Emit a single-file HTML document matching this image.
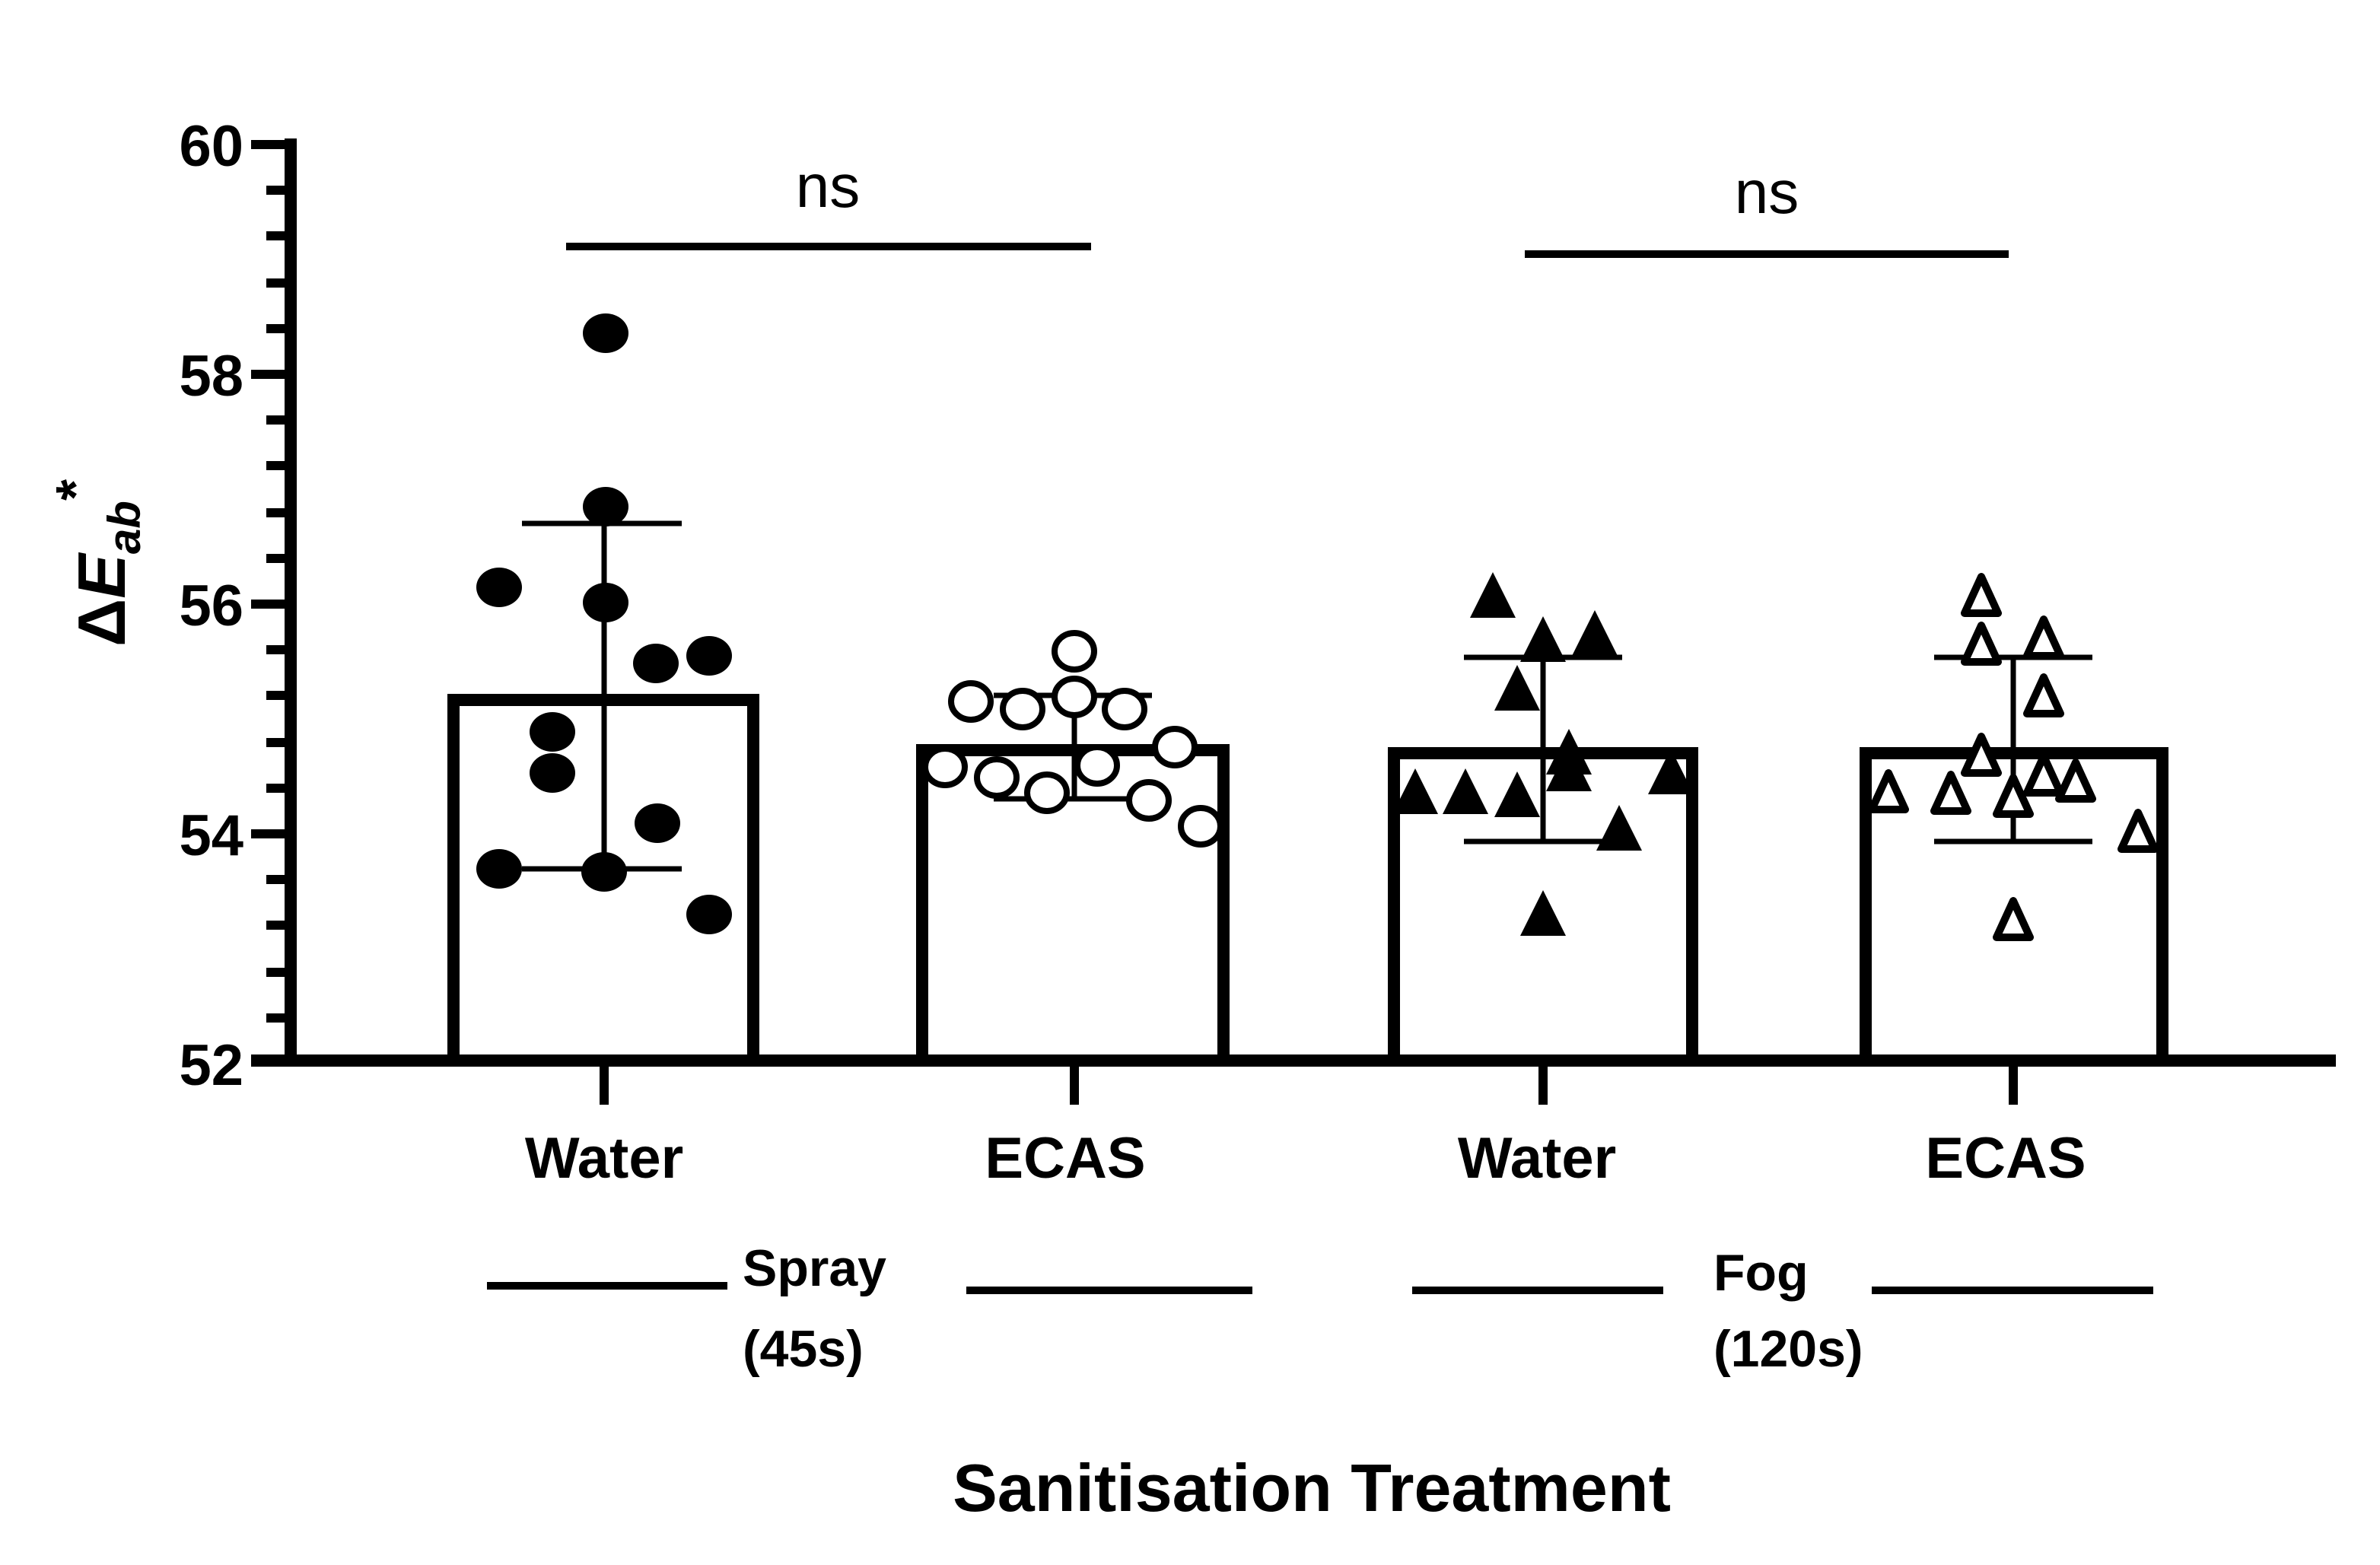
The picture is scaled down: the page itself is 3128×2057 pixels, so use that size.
<!DOCTYPE html>
<html><head><meta charset="utf-8"><style>
html,body{margin:0;padding:0;background:#fff;}
svg{display:block;}
text{font-family:"Liberation Sans",Arial,sans-serif;font-weight:bold;fill:#000;}
</style></head><body>
<svg width="3128" height="2057" viewBox="0 0 1564 1028.5" xmlns="http://www.w3.org/2000/svg">
<rect width="1564" height="1028.5" fill="#fff"/>
<!-- axes -->
<line x1="191" y1="91" x2="191" y2="701" stroke="#000" stroke-width="8"/>
<line x1="165" y1="697" x2="1535" y2="697" stroke="#000" stroke-width="8"/>
<g stroke="#000" stroke-width="6">
<line x1="165" y1="95" x2="191" y2="95"/><line x1="165" y1="246" x2="191" y2="246"/>
<line x1="165" y1="397" x2="191" y2="397"/><line x1="165" y1="548" x2="191" y2="548"/>
<line x1="175" y1="125" x2="191" y2="125"/><line x1="175" y1="155" x2="191" y2="155"/><line x1="175" y1="186" x2="191" y2="186"/><line x1="175" y1="216" x2="191" y2="216"/>
<line x1="175" y1="276" x2="191" y2="276"/><line x1="175" y1="306" x2="191" y2="306"/><line x1="175" y1="337" x2="191" y2="337"/><line x1="175" y1="367" x2="191" y2="367"/>
<line x1="175" y1="427" x2="191" y2="427"/><line x1="175" y1="457" x2="191" y2="457"/><line x1="175" y1="488" x2="191" y2="488"/><line x1="175" y1="518" x2="191" y2="518"/>
<line x1="175" y1="578" x2="191" y2="578"/><line x1="175" y1="608" x2="191" y2="608"/><line x1="175" y1="639" x2="191" y2="639"/><line x1="175" y1="669" x2="191" y2="669"/>
<line x1="397" y1="697" x2="397" y2="726"/><line x1="706" y1="697" x2="706" y2="726"/><line x1="1014" y1="697" x2="1014" y2="726"/><line x1="1323" y1="697" x2="1323" y2="726"/>
</g>
<g font-size="38" text-anchor="end">
<text x="160" y="109">60</text><text x="160" y="260">58</text><text x="160" y="411">56</text><text x="160" y="562">54</text><text x="160" y="713">52</text>
</g>
<text transform="translate(82,370) rotate(-90)" font-size="44" text-anchor="middle">Δ<tspan font-style="italic">E</tspan><tspan font-style="italic" font-size="30" dy="10">ab</tspan><tspan font-size="36" dy="-30">*</tspan></text>
<!-- bars -->
<g fill="none" stroke="#000" stroke-width="8">
<rect x="298" y="460" width="197" height="237"/>
<rect x="606" y="493" width="198" height="204"/>
<rect x="916" y="495" width="196" height="202"/>
<rect x="1226" y="495" width="195" height="202"/>
</g>
<!-- error bars -->
<g stroke="#000" stroke-width="3.5">
<line x1="397" y1="344" x2="397" y2="571"/><line x1="343" y1="344" x2="448" y2="344"/><line x1="343" y1="571" x2="448" y2="571"/>
<line x1="706" y1="457" x2="706" y2="525"/><line x1="653" y1="457" x2="757" y2="457"/><line x1="653" y1="525" x2="757" y2="525"/>
<line x1="1014" y1="432" x2="1014" y2="553"/><line x1="962" y1="432" x2="1066" y2="432"/><line x1="962" y1="553" x2="1066" y2="553"/>
<line x1="1323" y1="432" x2="1323" y2="553"/><line x1="1271" y1="432" x2="1375" y2="432"/><line x1="1271" y1="553" x2="1375" y2="553"/>
</g>
<!-- points bar1 -->
<g fill="#000">
<ellipse cx="398" cy="219" rx="15" ry="13"/><ellipse cx="398" cy="333" rx="15" ry="13"/><ellipse cx="328" cy="386" rx="15" ry="13"/><ellipse cx="398" cy="396" rx="15" ry="13"/>
<ellipse cx="431" cy="436" rx="15" ry="13"/><ellipse cx="466" cy="431" rx="15" ry="13"/><ellipse cx="363" cy="481" rx="15" ry="13"/><ellipse cx="363" cy="508" rx="15" ry="13"/>
<ellipse cx="432" cy="541" rx="15" ry="13"/><ellipse cx="328" cy="571" rx="15" ry="13"/><ellipse cx="397" cy="573" rx="15" ry="13"/><ellipse cx="466" cy="601" rx="15" ry="13"/>
</g>
<!-- points bar2 -->
<g fill="#fff" stroke="#000" stroke-width="4">
<ellipse cx="706" cy="428" rx="13" ry="12"/><ellipse cx="638" cy="461" rx="13" ry="12"/><ellipse cx="672" cy="466" rx="13" ry="12"/><ellipse cx="706" cy="458" rx="13" ry="12"/>
<ellipse cx="739" cy="466" rx="13" ry="12"/><ellipse cx="621" cy="504" rx="13" ry="12"/><ellipse cx="655" cy="511" rx="13" ry="12"/><ellipse cx="688" cy="521" rx="13" ry="12"/>
<ellipse cx="721" cy="503" rx="13" ry="12"/><ellipse cx="772" cy="491" rx="13" ry="12"/><ellipse cx="755" cy="526" rx="13" ry="12"/><ellipse cx="789" cy="543" rx="13" ry="12"/>
</g>
<defs>
<polygon id="tri" points="0,-16 15,14 -15,14"/>
<polygon id="otri" points="0,-13 11,11 -11,11"/>
</defs>
<g fill="#000">
<use href="#tri" x="981" y="392"/><use href="#tri" x="1014" y="421"/><use href="#tri" x="1048" y="417"/><use href="#tri" x="997" y="453"/>
<use href="#tri" x="1031" y="495"/><use href="#tri" x="1031" y="506"/><use href="#tri" x="930" y="521"/><use href="#tri" x="963" y="521"/><use href="#tri" x="997" y="523"/>
<use href="#tri" x="1098" y="508"/><use href="#tri" x="1064" y="545"/><use href="#tri" x="1014" y="601"/>
</g>
<g fill="#fff" stroke="#000" stroke-width="5" stroke-linejoin="round">
<use href="#otri" x="1302" y="392"/><use href="#otri" x="1302" y="424"/><use href="#otri" x="1343" y="420"/><use href="#otri" x="1343" y="458"/>
<use href="#otri" x="1302" y="497"/><use href="#otri" x="1241" y="521"/><use href="#otri" x="1282" y="522"/><use href="#otri" x="1323" y="524"/>
<use href="#otri" x="1343" y="510"/><use href="#otri" x="1364" y="514"/><use href="#otri" x="1405" y="547"/><use href="#otri" x="1323" y="605"/>
</g>
<!-- significance -->
<g stroke="#000" stroke-width="5">
<line x1="372" y1="162" x2="717" y2="162"/><line x1="1002" y1="167" x2="1320" y2="167"/>
<line x1="320" y1="845" x2="478" y2="845"/><line x1="635" y1="848" x2="823" y2="848"/>
<line x1="928" y1="848" x2="1093" y2="848"/><line x1="1230" y1="848" x2="1415" y2="848"/>
</g>
<g font-size="40" text-anchor="middle" font-weight="normal">
<text x="544" y="136" style="font-weight:normal">ns</text><text x="1161" y="140" style="font-weight:normal">ns</text>
</g>
<g font-size="38" text-anchor="middle">
<text x="397" y="774">Water</text><text x="700" y="774">ECAS</text><text x="1010" y="774">Water</text><text x="1318" y="774">ECAS</text>
</g>
<g font-size="34">
<text x="488" y="845">Spray</text><text x="488" y="898">(45s)</text>
<text x="1126" y="848">Fog</text><text x="1126" y="898">(120s)</text>
</g>
<text x="862" y="993" font-size="44" text-anchor="middle">Sanitisation Treatment</text>
</svg>
</body></html>
